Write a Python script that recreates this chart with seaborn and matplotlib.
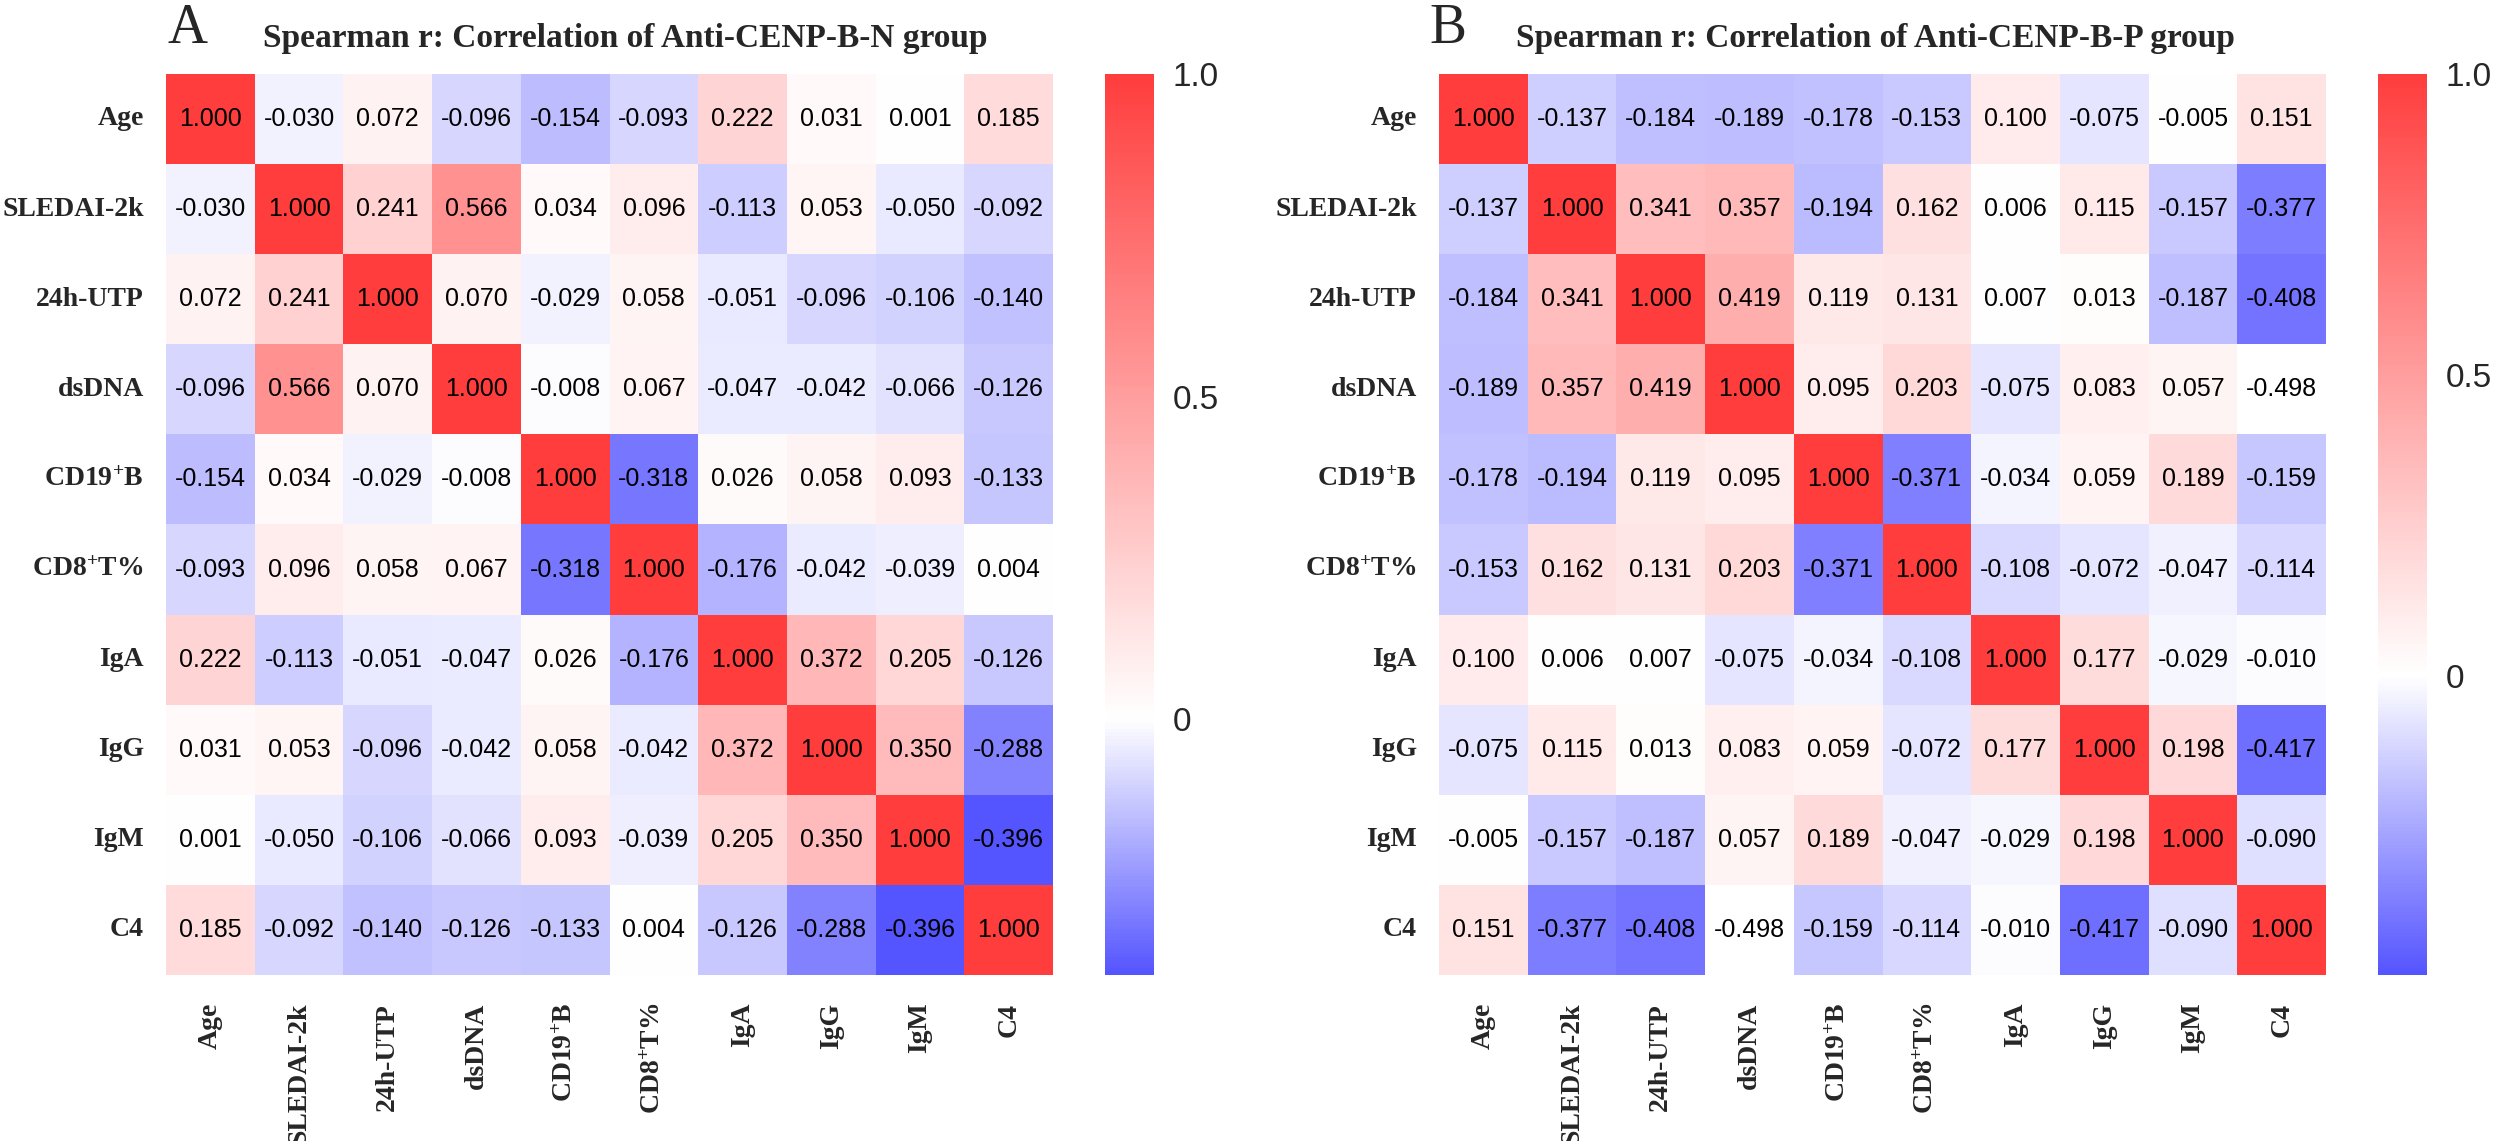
import numpy as np
import pandas as pd
import seaborn as sns
import matplotlib.pyplot as plt
from matplotlib.colors import LinearSegmentedColormap

# variables (same order for rows and columns)
labels = ['Age', 'SLEDAI-2k', '24h-UTP', 'dsDNA', r'CD19$^{+}$B', r'CD8$^{+}$T%',
          'IgA', 'IgG', 'IgM', 'C4']

# Spearman r, Anti-CENP-B-N group
r_neg = [
    [1.000, -0.030, 0.072, -0.096, -0.154, -0.093, 0.222, 0.031, 0.001, 0.185],
    [-0.030, 1.000, 0.241, 0.566, 0.034, 0.096, -0.113, 0.053, -0.050, -0.092],
    [0.072, 0.241, 1.000, 0.070, -0.029, 0.058, -0.051, -0.096, -0.106, -0.140],
    [-0.096, 0.566, 0.070, 1.000, -0.008, 0.067, -0.047, -0.042, -0.066, -0.126],
    [-0.154, 0.034, -0.029, -0.008, 1.000, -0.318, 0.026, 0.058, 0.093, -0.133],
    [-0.093, 0.096, 0.058, 0.067, -0.318, 1.000, -0.176, -0.042, -0.039, 0.004],
    [0.222, -0.113, -0.051, -0.047, 0.026, -0.176, 1.000, 0.372, 0.205, -0.126],
    [0.031, 0.053, -0.096, -0.042, 0.058, -0.042, 0.372, 1.000, 0.350, -0.288],
    [0.001, -0.050, -0.106, -0.066, 0.093, -0.039, 0.205, 0.350, 1.000, -0.396],
    [0.185, -0.092, -0.140, -0.126, -0.133, 0.004, -0.126, -0.288, -0.396, 1.000],
]

# Spearman r, Anti-CENP-B-P group
r_pos = [
    [1.000, -0.137, -0.184, -0.189, -0.178, -0.153, 0.100, -0.075, -0.005, 0.151],
    [-0.137, 1.000, 0.341, 0.357, -0.194, 0.162, 0.006, 0.115, -0.157, -0.377],
    [-0.184, 0.341, 1.000, 0.419, 0.119, 0.131, 0.007, 0.013, -0.187, -0.408],
    [-0.189, 0.357, 0.419, 1.000, 0.095, 0.203, -0.075, 0.083, 0.057, -0.498],
    [-0.178, -0.194, 0.119, 0.095, 1.000, -0.371, -0.034, 0.059, 0.189, -0.159],
    [-0.153, 0.162, 0.131, 0.203, -0.371, 1.000, -0.108, -0.072, -0.047, -0.114],
    [0.100, 0.006, 0.007, -0.075, -0.034, -0.108, 1.000, 0.177, -0.029, -0.010],
    [-0.075, 0.115, 0.013, 0.083, 0.059, -0.072, 0.177, 1.000, 0.198, -0.417],
    [-0.005, -0.157, -0.187, 0.057, 0.189, -0.047, -0.029, 0.198, 1.000, -0.090],
    [0.151, -0.377, -0.408, -0.498, -0.159, -0.114, -0.010, -0.417, -0.090, 1.000],
]

sns.set_style('white')
plt.rcParams['font.family'] = ['Liberation Sans', 'DejaVu Sans']
plt.rcParams['mathtext.fontset'] = 'custom'
plt.rcParams['mathtext.rm'] = 'Liberation Serif:bold'
plt.rcParams['mathtext.bf'] = 'Liberation Serif:bold'
plt.rcParams['mathtext.default'] = 'bf'

fig = plt.figure(figsize=(25, 11.41), dpi=100)

panels = [
    ('A', 'Spearman r: Correlation of Anti-CENP-B-N group', r_neg, -0.396,
     0.0664, 0.442, 0.0672, 0.1052),
    ('B', 'Spearman r: Correlation of Anti-CENP-B-P group', r_pos, -0.4975,
     0.5756, 0.9512, 0.5716, 0.6064),
]

for letter, title, vals, vmin, hx, cx, lx, tx in panels:
    # white sits at 0, blue at the lowest value, red at 1
    z = -vmin / (1.0 - vmin)
    cmap = LinearSegmentedColormap.from_list(
        'bwr_' + letter, [(0, '#5555FF'), (z, '#FFFFFF'), (1, '#FF3D3D')])
    cmap.set_under('white')

    df = pd.DataFrame(vals, index=labels, columns=labels)
    annot = df.map(lambda v: f'{v:.3f}')
    ax = fig.add_axes([hx, 0.1455, 0.3548, 0.7897])
    cax = fig.add_axes([cx, 0.1455, 0.0194, 0.7897])
    sns.heatmap(df, ax=ax, cbar_ax=cax, cmap=cmap, vmin=vmin, vmax=1.0,
                annot=annot, fmt='', annot_kws={'color': 'black', 'fontsize': 18},
                linewidths=0)
    ax.tick_params(length=0)
    ax.tick_params(axis='x', pad=20)
    ax.tick_params(axis='y', pad=16)
    ax.set_xticklabels(labels, rotation=90, fontfamily='Liberation Serif',
                       fontweight='bold', fontsize=20)
    ax.set_yticklabels(labels, rotation=0, fontfamily='Liberation Serif',
                       fontweight='bold', fontsize=20)
    ax.set_xlabel('')
    ax.set_ylabel('')

    cax.set_yticks([0, 0.5, 1.0])
    cax.set_yticklabels(['0', '0.5', '1.0'])
    cax.yaxis.set_ticks_position('both')
    cax.tick_params(direction='in', color='white', length=5, width=1.5,
                    labelsize=24, pad=14, labelleft=False, labelright=True)

    fig.text(lx, 0.9623, letter, fontfamily='Liberation Serif', fontsize=40,
             va='baseline', ha='left')
    fig.text(tx, 0.9588, title, fontfamily='Liberation Serif', fontweight='bold',
             fontsize=24, va='baseline', ha='left')

fig.savefig('out.png', dpi=100)
